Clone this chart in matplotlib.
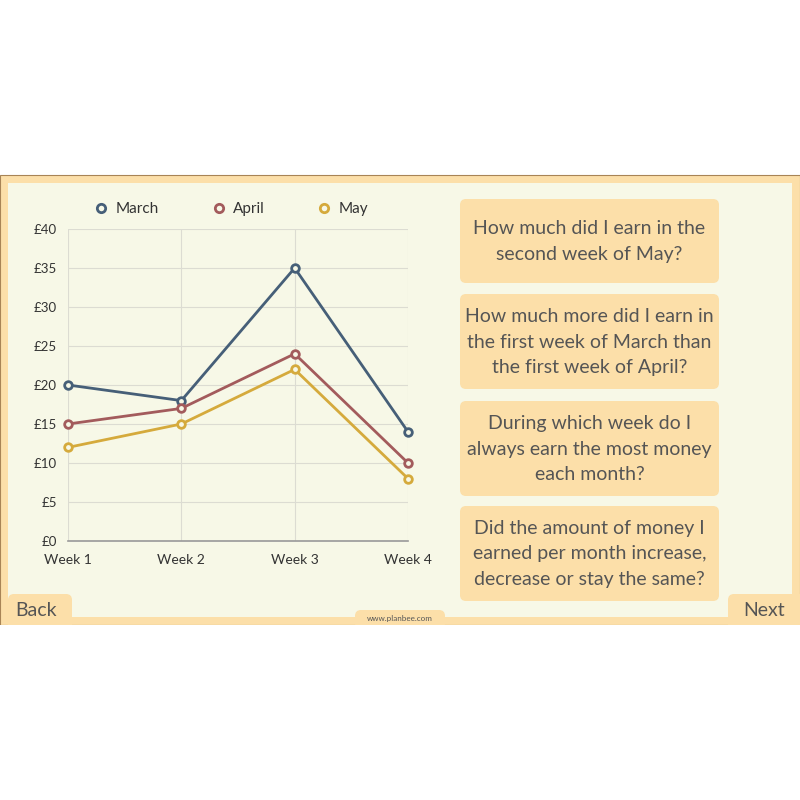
import matplotlib
matplotlib.use("Agg")
import matplotlib.pyplot as plt
from matplotlib.patches import Rectangle, FancyBboxPatch
from matplotlib.lines import Line2D

plt.rcParams["font.family"] = ["Lato", "DejaVu Sans"]

weeks = ["Week 1", "Week 2", "Week 3", "Week 4"]
months = ["March", "April", "May"]
march = [20, 18, 35, 14]
april = [15, 17, 24, 10]
may = [12, 15, 22, 8]
y_ticks = [0, 5, 10, 15, 20, 25, 30, 35, 40]
y_labels = ["£" + str(v) for v in y_ticks]
questions = [
    "How much did I earn in the\nsecond week of May?",
    "How much more did I earn in\nthe first week of March than\nthe first week of April?",
    "During which week do I\nalways earn the most money\neach month?",
    "Did the amount of money I\nearned per month increase,\ndecrease or stay the same?",
]

colors = ["#465f78", "#a35b5c", "#d5aa3c"]
orange = "#fcdfa9"
panel = "#f7f8e7"
text_col = "#555555"

W, H = 800, 800
fig = plt.figure(figsize=(8, 8), dpi=100)
fig.patch.set_facecolor("white")

# background in pixel coords
bg = fig.add_axes([0, 0, 1, 1])
bg.set_xlim(0, W)
bg.set_ylim(H, 0)
bg.axis("off")

bg.add_patch(Rectangle((0, 175), 800, 450, facecolor=orange, edgecolor="#a88456", lw=0.8))
bg.add_patch(Rectangle((8, 183), 784, 434, facecolor=panel, edgecolor="none"))

# question boxes
box_y = [(199, 283), (294, 389), (401, 496), (506, 601)]
for (y0, y1), q in zip(box_y, questions):
    bg.add_patch(FancyBboxPatch((460, y0), 259, y1 - y0, boxstyle="round,pad=0,rounding_size=6",
                                facecolor=orange, edgecolor="none"))
    bg.text(589.5, (y0 + y1) / 2 + 0.5, q, ha="center", va="center", fontsize=14,
            color=text_col, linespacing=1.63)

# buttons
bg.add_patch(FancyBboxPatch((8, 594), 64, 40, boxstyle="round,pad=0,rounding_size=6",
                            facecolor=orange, edgecolor="none"))
bg.text(36, 611, "Back", ha="center", va="center", fontsize=14, color=text_col)
bg.add_patch(FancyBboxPatch((728, 594), 80, 40, boxstyle="round,pad=0,rounding_size=6",
                            facecolor=orange, edgecolor="none"))
bg.text(764, 611, "Next", ha="center", va="center", fontsize=14, color=text_col)
bg.add_patch(FancyBboxPatch((355, 610), 90, 20, boxstyle="round,pad=0,rounding_size=6",
                            facecolor=orange, edgecolor="none"))
bg.text(400, 618, "www.planbee.com", ha="center", va="center", fontsize=5.8, color=text_col)
bg.add_patch(Rectangle((0, 625), 800, 175, facecolor="white", edgecolor="none"))

# chart
left, right, top, bottom = 68, 408, 229, 541
ax = fig.add_axes([left / W, 1 - bottom / H, (right - left) / W, (bottom - top) / H])
ax.set_facecolor("none")
x = range(len(weeks))
for vals, name, c in zip([march, april, may], months, colors):
    ax.plot(x, vals, color=c, lw=2, marker="o", ms=5.5, mfc=panel, mec=c, mew=2,
            label=name, clip_on=False, zorder=3)
ax.set_xlim(0, len(weeks) - 1)
ax.set_ylim(0, 40)
ax.set_yticks(y_ticks)
ax.set_yticklabels(y_labels)
ax.set_xticks(list(x))
ax.set_xticklabels(weeks)
ax.grid(True, color="#dcdcd2", lw=0.8)
for s in ["top", "right", "left"]:
    ax.spines[s].set_visible(False)
ax.spines["bottom"].set_color("#999999")
ax.spines["bottom"].set_linewidth(1.2)
ax.tick_params(length=0, labelsize=10, colors="#333333")
ax.tick_params(axis="y", pad=8, labelsize=9.5)
ax.tick_params(axis="x", pad=9)

handles = [Line2D([], [], color=c, lw=0, marker="o", ms=6, mfc=panel, mec=c, mew=2) for c in colors]
leg = fig.legend(handles, months, loc="center", bbox_to_anchor=(231 / W, 1 - 209 / H), ncol=3,
                 frameon=False, fontsize=11, handletextpad=0.45, columnspacing=3.4,
                 handlelength=1.0, labelcolor="#333333")

fig.savefig("out.png", dpi=100, facecolor="white")
